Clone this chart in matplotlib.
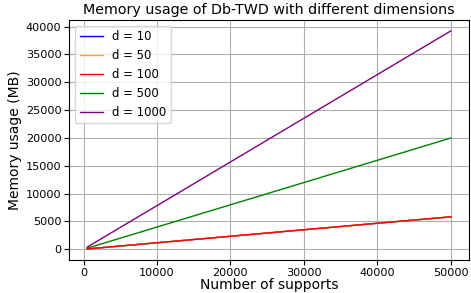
import matplotlib
matplotlib.use("Agg")
import matplotlib.pyplot as plt

supports = [500, 1000, 5000, 10000, 20000, 30000, 40000, 50000]
mem_d10 = [60, 120, 590, 1170, 2340, 3510, 4680, 5820]
mem_d50 = [62, 122, 595, 1175, 2345, 3515, 4685, 5830]
mem_d100 = [65, 125, 600, 1180, 2350, 3520, 4690, 5850]
mem_d500 = [200, 400, 2000, 4000, 8000, 12000, 16000, 20000]
mem_d1000 = [390, 790, 3930, 7850, 15700, 23550, 31400, 39250]

labels = ["d = 10", "d = 50", "d = 100", "d = 500", "d = 1000"]
colors = ["blue", "orange", "red", "green", "purple"]
series = [mem_d10, mem_d50, mem_d100, mem_d500, mem_d1000]

fig, ax = plt.subplots(figsize=(4.71, 2.93), dpi=100)
for s, lab, c in zip(series, labels, colors):
    ax.plot(supports, s, color=c, label=lab, linewidth=1)

ax.set_title("Memory usage of Db-TWD with different dimensions", fontsize=10.3, pad=4)
ax.set_xlabel("Number of supports", fontsize=10, labelpad=0.5)
ax.set_ylabel("Memory usage (MB)", fontsize=10, labelpad=3)
ax.tick_params(labelsize=8.1, pad=2)
ax.set_yticks(range(0, 40001, 5000))
ax.grid(True)
ax.legend(loc="upper left", fontsize=8.4)
fig.subplots_adjust(left=0.1465, right=0.996, top=0.932, bottom=0.113)
fig.savefig("out.png", dpi=100)
